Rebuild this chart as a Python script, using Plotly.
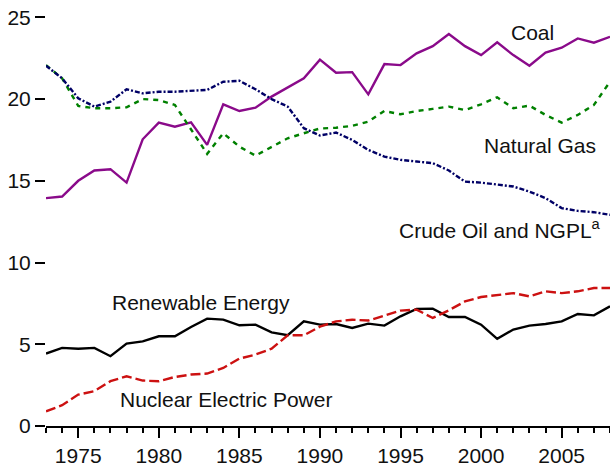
import plotly.graph_objects as go

years = list(range(1973, 2009))

coal = [13.94, 14.04, 15.0, 15.63, 15.71, 14.89, 17.54, 18.56, 18.31, 18.58,
        17.2, 19.68, 19.27, 19.47, 20.15, 20.72, 21.27, 22.41, 21.61, 21.65,
        20.29, 22.14, 22.08, 22.8, 23.24, 23.98, 23.24, 22.69, 23.47, 22.69,
        22.04, 22.84, 23.14, 23.71, 23.45, 23.81]

natural_gas = [22.08, 21.27, 19.58, 19.44, 19.44, 19.5, 20.0, 19.94, 19.64, 18.11,
               16.65, 17.91, 17.09, 16.54, 17.09, 17.6, 17.91, 18.2, 18.25, 18.36,
               18.62, 19.27, 19.07, 19.27, 19.4, 19.54, 19.33, 19.68, 20.11, 19.44,
               19.6, 19.03, 18.56, 19.03, 19.64, 21.06]

crude_oil = [22.04, 21.27, 20.05, 19.54, 19.84, 20.6, 20.35, 20.45, 20.45, 20.5,
             20.56, 21.06, 21.12, 20.6, 20.0, 19.54, 18.22, 17.77, 17.95, 17.5,
             16.89, 16.48, 16.28, 16.18, 16.08, 15.63, 14.95, 14.89, 14.79, 14.65,
             14.34, 13.94, 13.33, 13.16, 13.08, 12.92]

renewable = [4.43, 4.78, 4.73, 4.78, 4.27, 5.04, 5.18, 5.49, 5.49, 6.06,
             6.57, 6.51, 6.16, 6.2, 5.73, 5.55, 6.4, 6.2, 6.24, 6.0,
             6.26, 6.14, 6.71, 7.16, 7.18, 6.67, 6.67, 6.2, 5.33, 5.9,
             6.14, 6.24, 6.4, 6.85, 6.77, 7.32]

nuclear = [0.9, 1.27, 1.92, 2.13, 2.74, 3.04, 2.78, 2.74, 3.0, 3.15,
           3.21, 3.55, 4.12, 4.37, 4.73, 5.55, 5.55, 6.08, 6.4, 6.5,
           6.45, 6.75, 7.06, 7.12, 6.61, 7.08, 7.62, 7.89, 8.03, 8.13,
           7.93, 8.24, 8.13, 8.24, 8.44, 8.44]

series = [
    ("Coal", coal, "#8a0a8a", "solid"),
    ("Natural Gas", natural_gas, "#008000", "5px,5px"),
    ("Crude Oil and NGPL", crude_oil, "#000066", "5px,2px,2px,2px"),
    ("Renewable Energy", renewable, "#000000", "solid"),
    ("Nuclear Electric Power", nuclear, "#cc1111", "10px,4px"),
]

labels = [
    ("Coal", 2003.2, 24.1),
    ("Natural Gas", 2003.66, 17.13),
    ("Crude Oil and NGPL<sup>a</sup>", 2001.2, 12.06),
    ("Renewable Energy", 1982.6, 7.53),
    ("Nuclear Electric Power", 1984.2, 1.62),
]

FONT = "Liberation Sans, Arial, sans-serif"

fig = go.Figure()
for name, vals, color, dash in series:
    fig.add_trace(go.Scatter(x=years, y=vals, mode="lines", name=name,
                             line=dict(color=color, width=2.4, dash=dash)))

for text, x, y in labels:
    fig.add_annotation(x=x, y=y, xref="x", yref="y", text=text, showarrow=False,
                       font=dict(family=FONT, size=21, color="#111111"),
                       xanchor="center", yanchor="middle")

fig.update_layout(
    width=610, height=466,
    margin=dict(l=46, r=0, t=1, b=40),
    paper_bgcolor="white", plot_bgcolor="white",
    showlegend=False,
    font=dict(family=FONT, size=21, color="#111111"),
    xaxis=dict(range=[1973, 2008], showgrid=False, zeroline=False,
               showline=True, linecolor="black", linewidth=2,
               ticks="outside", ticklen=10, tickwidth=2, tickcolor="black",
               tick0=1975, dtick=5, ticklabeloverflow="allow",
               minor=dict(dtick=1, ticks="outside", ticklen=5, tickwidth=2,
                          tickcolor="black", showgrid=False),
               tickfont=dict(family=FONT, size=21)),
    yaxis=dict(range=[0, 26], showgrid=False, zeroline=False, showline=False,
               ticks="outside", ticklen=10, tickwidth=2, tickcolor="black",
               tick0=0, dtick=5, ticklabeloverflow="allow",
               tickfont=dict(family=FONT, size=21)),
)

fig.write_html("out.html",
               config={"displayModeBar": False, "staticPlot": True},
               post_script="document.body.style.margin='0';"
                           "document.body.style.overflow='hidden';")
